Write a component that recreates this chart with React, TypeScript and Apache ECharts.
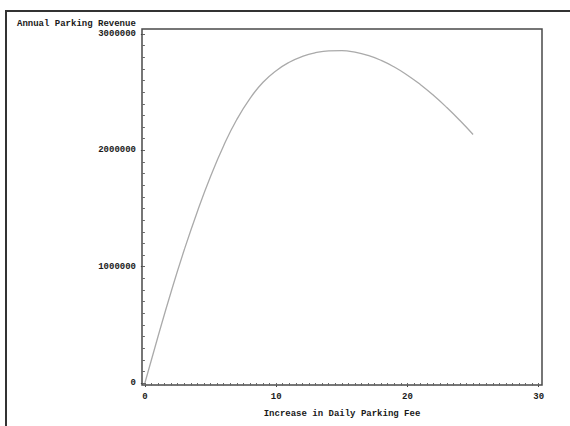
import React, { useEffect, useRef } from "react";
import * as echarts from "echarts";

const fees = [0, 1, 2, 3, 4, 5, 6, 7, 8, 9, 10, 11, 12, 13, 14, 15, 16, 17, 18, 19, 20, 21, 22, 23, 24, 25];
const revenue = [
  0, 400000, 785000, 1145000, 1475000, 1775000, 2040000, 2265000, 2445000, 2585000,
  2685000, 2757000, 2807000, 2839000, 2855000, 2857000, 2844000, 2816000, 2773000, 2716000,
  2646000, 2564000, 2471000, 2368000, 2256000, 2136000,
];
const xTicks = [0, 10, 20, 30];
const yTicks = [0, 1000000, 2000000, 3000000];
const xMinor = Array.from({ length: 61 }, (_, i) => i * 0.5);
const yMinor = Array.from({ length: 31 }, (_, i) => i * 100000);

const FONT = "Liberation Mono";
const TXT = "#1a1a1a";

export default function App() {
  const ref = useRef<HTMLDivElement>(null);
  useEffect(() => {
    const chart = echarts.init(ref.current!, null, { renderer: "svg" });
    const xMin = -0.22, xMax = 30.25, yMin = -17000, yMax = 3043000;
    const plain = (v: number) => String(v);
    chart.setOption({
      animation: false,
      backgroundColor: "#fff",
      grid: {
        left: 142, right: 28, top: 29, bottom: 41,
        show: true, borderColor: "#4a4a4a", borderWidth: 1.5, backgroundColor: "transparent",
      },
      graphic: [
        { type: "rect", shape: { x: 6, y: 11, width: 700, height: 600 }, style: { fill: "none", stroke: "#333", lineWidth: 2 } },
        { type: "text", left: 17, top: 19, style: { text: "Annual Parking Revenue", font: `bold 9px "${FONT}"`, fill: TXT } },
      ],
      xAxis: [
        {
          type: "value", min: xMin, max: xMax, position: "bottom",
          axisLine: { show: false }, splitLine: { show: false },
          axisTick: { show: true, customValues: xTicks, length: 4, lineStyle: { color: "#444" } },
          axisLabel: { customValues: xTicks, formatter: plain, margin: 7, fontFamily: FONT, fontWeight: "bold", fontSize: 9, color: TXT },
          name: "Increase in Daily Parking Fee", nameLocation: "middle", nameGap: 24,
          nameTextStyle: { fontFamily: FONT, fontWeight: "bold", fontSize: 9, color: TXT },
        },
        {
          type: "value", min: xMin, max: xMax, position: "bottom",
          axisLine: { show: false }, splitLine: { show: false }, axisLabel: { show: false },
          axisTick: { show: true, customValues: xMinor, length: 2.5, lineStyle: { color: "#666" } },
        },
      ],
      yAxis: [
        {
          type: "value", min: yMin, max: yMax, position: "left",
          axisLine: { show: false }, splitLine: { show: false },
          axisTick: { show: true, customValues: yTicks, length: 4, lineStyle: { color: "#444" } },
          axisLabel: { customValues: yTicks, formatter: plain, margin: 6, fontFamily: FONT, fontWeight: "bold", fontSize: 9, color: TXT },
        },
        {
          type: "value", min: yMin, max: yMax, position: "left",
          axisLine: { show: false }, splitLine: { show: false }, axisLabel: { show: false },
          axisTick: { show: true, customValues: yMinor, length: 2.5, lineStyle: { color: "#666" } },
        },
      ],
      series: [
        {
          type: "line",
          data: fees.map((f, i) => [f, revenue[i]]),
          smooth: 0.5,
          showSymbol: false,
          lineStyle: { color: "#aaaaaa", width: 1.3 },
        },
      ],
    });
    return () => chart.dispose();
  }, []);
  return <div ref={ref} style={{ position: "fixed", left: 0, top: 0, width: 570, height: 426 }} />;
}
